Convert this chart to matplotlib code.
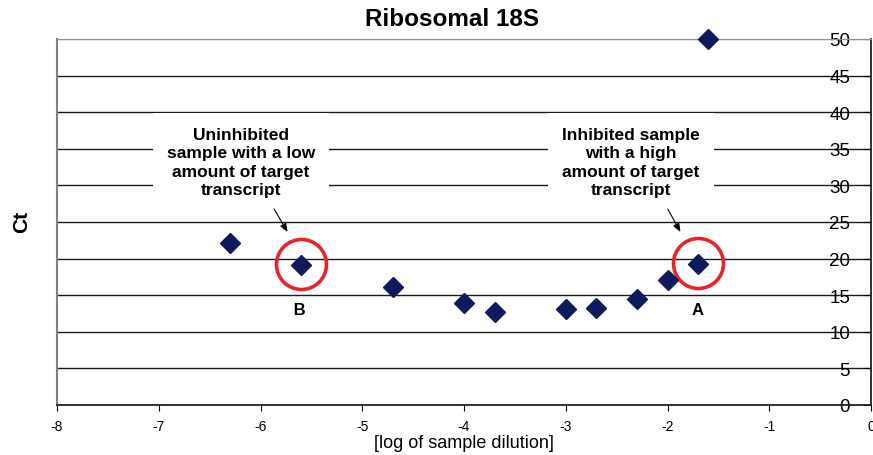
import matplotlib
matplotlib.use("Agg")
import matplotlib.pyplot as plt

plt.rcParams['font.family'] = ['Liberation Sans', 'DejaVu Sans']
plt.rcParams['axes.unicode_minus'] = False

# log of sample dilution vs Ct
dilution = [-6.3, -5.6, -4.7, -4.0, -3.7, -3.0, -2.7, -2.3, -2.0, -1.7, -1.6]
ct = [22.1, 19.1, 16.1, 13.9, 12.7, 13.1, 13.3, 14.5, 17.1, 19.3, 50.0]

# circled samples
circled_x = [-5.6, -1.7]
circled_y = [19.2, 19.4]

xticks = [-8, -7, -6, -5, -4, -3, -2, -1, 0]
yticks = [0, 5, 10, 15, 20, 25, 30, 35, 40, 45, 50]

fig = plt.figure(figsize=(8.73, 4.56), dpi=100)
ax = fig.add_axes([57/873, 50/456, 814/873, 366/456])

ax.plot(dilution, ct, 'D', color='#0f1a5c', markersize=10, clip_on=False, zorder=5)
ax.plot(circled_x, circled_y, 'o', markersize=36, markerfacecolor='none',
        markeredgecolor='#e8242a', markeredgewidth=2.6, zorder=4)

ax.set_xlim(-8, 0)
ax.set_ylim(0, 50)
ax.set_xticks(xticks)
ax.set_yticks(yticks)
ax.tick_params(axis='x', direction='out', length=4, labelsize=10, pad=6)
ax.yaxis.tick_right()
ax.tick_params(axis='y', direction='in', length=5, labelsize=13.5, pad=-15)
for lab in ax.get_yticklabels():
    lab.set_ha('right')

ax.yaxis.grid(True, color='#1a1a1a', linewidth=1.0)
ax.get_ygridlines()[-1].set_color('#909090')
ax.spines['left'].set_color('#808080')
ax.spines['left'].set_linewidth(1.5)
ax.spines['top'].set_color('#909090')
ax.spines['right'].set_color('#222222')
ax.spines['bottom'].set_color('#222222')
ax.spines['right'].set_linewidth(1.3)
ax.spines['bottom'].set_linewidth(1.3)

ax.set_xlabel('[log of sample dilution]', fontsize=13, labelpad=1)
fig.text(22/873, 1 - 222/456, 'Ct', rotation=90, fontsize=15, fontweight='bold',
         ha='center', va='center')
fig.text(452/873, 1 - 20/456, 'Ribosomal 18S', fontsize=17.5, fontweight='bold',
         ha='center', va='center')

box = dict(boxstyle='square,pad=0.8', facecolor='white', edgecolor='none')
ax.text(-6.19, 33.2, 'Uninhibited\nsample with a low\namount of target\ntranscript',
        ha='center', va='center', fontsize=12.5, fontweight='bold',
        linespacing=1.3, bbox=box, zorder=3)
ax.text(-2.36, 33.2, 'Inhibited sample\nwith a high\namount of target\ntranscript',
        ha='center', va='center', fontsize=12.5, fontweight='bold',
        linespacing=1.3, bbox=box, zorder=3)

small_box = dict(boxstyle='square,pad=0.25', facecolor='white', edgecolor='none')
ax.text(-5.62, 13.0, ' B ', ha='center', va='center', fontsize=12,
        fontweight='bold', bbox=small_box, zorder=3)
ax.text(-1.70, 13.0, ' A ', ha='center', va='center', fontsize=12,
        fontweight='bold', bbox=small_box, zorder=3)

arrow = dict(arrowstyle='-|>,head_length=0.5,head_width=0.2', color='black', lw=0.8)
ax.annotate('', xy=(-5.72, 23.3), xytext=(-5.88, 27.1), arrowprops=arrow, zorder=4)
ax.annotate('', xy=(-1.86, 23.3), xytext=(-2.01, 27.1), arrowprops=arrow, zorder=4)

fig.savefig('out.png', dpi=100)
